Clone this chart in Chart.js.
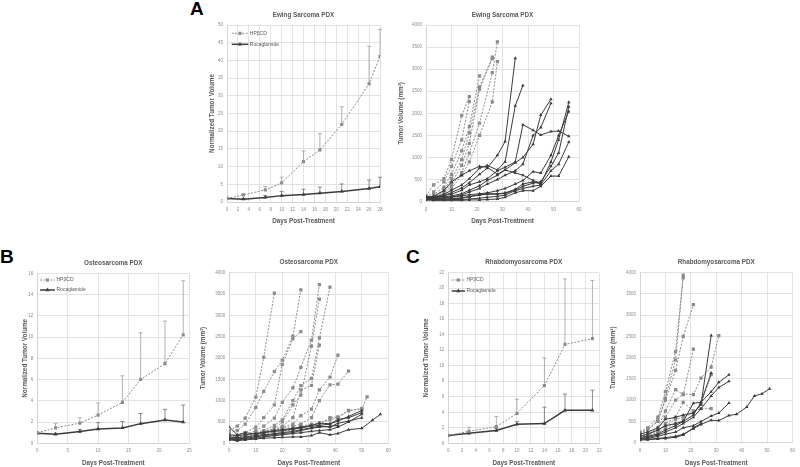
<!DOCTYPE html>
<html>
<head>
<meta charset="utf-8">
<script src="https://cdn.jsdelivr.net/npm/chart.js@4.4.1/dist/chart.umd.min.js"></script>
<style>
  body { margin: 0; background: #fff; width: 800px; height: 467px; position: relative; overflow: hidden; }
  canvas { position: absolute; }
  .tag { position: absolute; font: bold 19px "Liberation Sans", Arial, sans-serif; color: #000; line-height: 1; }
</style>
</head>
<body>
<div class="tag" style="left:190px;top:-1px">A</div>
<div class="tag" style="left:0px;top:247px">B</div>
<div class="tag" style="left:406px;top:247px">C</div>
<canvas id="ewingMean"></canvas>
<canvas id="ewingIndiv"></canvas>
<canvas id="osteoMean"></canvas>
<canvas id="osteoIndiv"></canvas>
<canvas id="rhabdoMean"></canvas>
<canvas id="rhabdoIndiv"></canvas>
<script>
// --- Ewing sarcoma: group means (normalized) with upward SD bars
const ewingDays = [0, 3, 7, 10, 14, 17, 21, 26, 28];
const ewingCtrlMean = [1, 2.0, 3.4, 5.4, 11.4, 14.7, 21.9, 33.4, 41.1];
const ewingCtrlSd = [0, 0.3, 1.0, 1.6, 3.0, 4.6, 5.0, 10.6, 7.7];
const ewingRocaMean = [1, 0.8, 1.3, 1.8, 2.1, 2.5, 3.0, 3.8, 4.3];
const ewingRocaSd = [0, 0.2, 0.5, 1.2, 1.5, 1.7, 2.1, 2.4, 2.7];

// --- Ewing sarcoma: individual tumours [day, mm3]
const ewingCtrlCurves = [
  [[0, 130], [3, 380], [7, 520], [10, 960], [14, 1950], [17, 2380]],
  [[0, 110], [3, 220], [7, 450], [10, 800], [14, 1400], [17, 2270]],
  [[0, 90], [3, 160], [7, 330], [10, 620], [14, 1150], [17, 1700], [21, 2850]],
  [[0, 100], [3, 130], [7, 270], [10, 520], [14, 950], [17, 1560], [21, 2600], [26, 3270]],
  [[0, 80], [3, 110], [7, 210], [10, 420], [14, 820], [17, 1320], [21, 2550], [26, 3240]],
  [[0, 90], [3, 100], [7, 180], [10, 360], [14, 660], [17, 1100], [21, 1780], [26, 2920], [28, 3620]],
  [[0, 70], [3, 90], [7, 150], [10, 300], [14, 600], [17, 900], [21, 1500], [26, 2260], [28, 3170]],
];
const ewingRocaCurves = [
  [[0, 100], [3, 90], [7, 130], [10, 210], [14, 310], [17, 430], [21, 620], [24, 760], [28, 1050], [31, 1360], [35, 3250]],
  [[0, 120], [3, 110], [7, 160], [10, 260], [14, 380], [17, 520], [21, 760], [24, 820], [28, 720], [31, 900], [35, 2170], [38, 2630]],
  [[0, 80], [3, 100], [7, 140], [10, 170], [14, 260], [17, 380], [21, 450], [24, 520], [28, 700], [31, 780], [35, 900], [38, 1740], [42, 1620], [45, 1510], [49, 1590], [52, 1600], [56, 1480]],
  [[0, 110], [3, 90], [7, 110], [10, 130], [14, 180], [17, 260], [21, 360], [24, 480], [28, 600], [31, 720], [35, 880], [38, 1000], [42, 1300], [45, 1960], [49, 2320]],
  [[0, 90], [3, 80], [7, 90], [10, 110], [14, 150], [17, 220], [21, 300], [24, 400], [28, 500], [31, 600], [35, 700], [38, 850], [42, 1500], [45, 1680], [49, 2230]],
  [[0, 70], [3, 60], [7, 60], [10, 70], [14, 90], [17, 120], [21, 160], [24, 180], [28, 180], [31, 200], [35, 280], [38, 400], [42, 450], [45, 400], [49, 900], [52, 1400], [56, 2250]],
  [[0, 60], [3, 50], [7, 50], [10, 60], [14, 80], [17, 110], [21, 150], [24, 170], [28, 170], [31, 190], [35, 260], [38, 350], [42, 420], [45, 450], [49, 800], [52, 1100], [56, 2150]],
  [[0, 80], [3, 70], [7, 80], [10, 100], [14, 130], [17, 160], [21, 180], [24, 200], [28, 250], [31, 300], [35, 400], [38, 480], [42, 680], [45, 650], [49, 1050], [52, 1500], [56, 2040]],
  [[0, 50], [3, 40], [7, 40], [10, 50], [14, 50], [17, 60], [21, 80], [24, 100], [28, 120], [31, 150], [35, 250], [38, 300], [42, 350], [45, 380], [49, 700], [52, 850], [56, 1350]],
  [[0, 40], [3, 30], [7, 30], [10, 30], [14, 30], [17, 40], [21, 40], [24, 50], [28, 60], [31, 100], [35, 200], [38, 250], [42, 250], [45, 350], [49, 580], [52, 580], [56, 1020]],
  [[0, 100], [3, 120], [7, 250], [10, 450], [14, 600], [17, 700], [21, 800], [24, 780], [28, 620], [31, 720], [35, 650], [38, 600], [42, 480], [45, 420]],
];

// --- Osteosarcoma
const osteoDays = [0, 3, 7, 10, 14, 17, 21, 24];
const osteoCtrlMean = [1.0, 1.45, 1.9, 2.65, 3.85, 6.0, 7.5, 10.2];
const osteoCtrlSd = [0, 0.4, 0.5, 1.15, 2.5, 4.4, 4.0, 5.1];
const osteoRocaMean = [0.95, 0.85, 1.1, 1.35, 1.45, 1.85, 2.2, 2.0];
const osteoRocaSd = [0, 0.1, 0.2, 0.6, 0.6, 0.95, 1.0, 1.6];

const osteoCtrlCurves = [
  [[0, 300], [3, 400], [6, 590], [10, 1080], [13, 2020], [17, 3520]],
  [[0, 250], [3, 300], [6, 450], [10, 840], [13, 1220], [17, 1680], [20, 1950], [24, 2510], [27, 3600]],
  [[0, 200], [3, 180], [6, 250], [10, 380], [13, 600], [17, 900], [20, 1850], [24, 2450], [27, 2620]],
  [[0, 150], [3, 120], [6, 180], [10, 300], [13, 400], [17, 590], [20, 960], [24, 1300], [27, 1780], [31, 2420], [34, 3720]],
  [[0, 180], [3, 150], [6, 200], [10, 250], [13, 300], [17, 420], [20, 550], [24, 1000], [27, 1350], [31, 1520], [34, 2470], [38, 3660]],
  [[0, 120], [3, 100], [6, 150], [10, 200], [13, 280], [17, 350], [20, 500], [24, 900], [27, 1130], [31, 2280], [34, 3380]],
  [[0, 100], [3, 80], [6, 120], [10, 180], [13, 250], [17, 300], [20, 400], [24, 600], [27, 1250], [31, 1360], [34, 2300]],
  [[0, 150], [3, 140], [6, 180], [10, 230], [13, 280], [17, 340], [20, 380], [24, 450], [27, 650], [31, 800], [34, 1250], [38, 1550], [41, 2070]],
  [[0, 140], [3, 120], [6, 160], [10, 200], [13, 250], [17, 300], [20, 350], [24, 400], [27, 450], [31, 600], [34, 1000], [38, 1370], [41, 1390], [45, 1690]],
  [[0, 130], [3, 110], [6, 140], [10, 170], [13, 220], [17, 260], [20, 300], [24, 350], [27, 400], [31, 450], [34, 480], [38, 550], [41, 600], [45, 770], [50, 800], [52, 1090]],
  [[0, 110], [3, 100], [6, 130], [10, 160], [13, 200], [17, 230], [20, 280], [24, 320], [27, 380], [31, 420], [34, 450], [38, 600], [41, 620], [45, 760], [50, 820]],
];
const osteoRocaCurves = [
  [[0, 380], [3, 200], [6, 250], [10, 220], [13, 260], [17, 300], [20, 320], [24, 350], [27, 380], [31, 420], [34, 470], [38, 460], [41, 520], [45, 630], [50, 770]],
  [[0, 200], [3, 180], [6, 200], [10, 230], [13, 250], [17, 280], [20, 300], [24, 330], [27, 360], [31, 400], [34, 420], [38, 450], [41, 560], [45, 600], [50, 720]],
  [[0, 150], [3, 130], [6, 150], [10, 180], [13, 200], [17, 220], [20, 250], [24, 280], [27, 320], [31, 360], [34, 400], [38, 380], [41, 470], [45, 520], [50, 600]],
  [[0, 100], [3, 80], [6, 100], [10, 120], [13, 150], [17, 180], [20, 200], [24, 230], [27, 250], [31, 280], [34, 300], [38, 320], [41, 380], [45, 500], [50, 680]],
  [[0, 80], [3, 60], [6, 80], [10, 100], [13, 120], [17, 130], [20, 140], [24, 150], [27, 150], [31, 180], [34, 250], [38, 200], [41, 230], [45, 320], [50, 350], [54, 540], [57, 680]],
  [[0, 120], [3, 100], [6, 120], [10, 150], [13, 180], [17, 200], [20, 230], [24, 250], [27, 300], [31, 350], [34, 380], [38, 400], [41, 420]],
];

// --- Rhabdomyosarcoma
const rhabdoDays = [0, 3, 7, 10, 14, 17, 21];
const rhabdoCtrlMean = [1.0, 1.55, 2.15, 3.85, 7.45, 12.75, 13.5];
const rhabdoCtrlSd = [0, 0.5, 1.3, 1.85, 3.55, 8.45, 7.5];
const rhabdoRocaMean = [1.0, 1.3, 1.65, 2.45, 2.55, 4.25, 4.25];
const rhabdoRocaSd = [0, 0.15, 0.25, 0.35, 2.1, 2.1, 2.6];

const rhabdoCtrlCurves = [
  [[0, 250], [3, 350], [7, 600], [10, 1200], [14, 2150], [17, 3940]],
  [[0, 220], [3, 320], [7, 520], [10, 1050], [14, 1950], [17, 3880]],
  [[0, 200], [3, 300], [7, 500], [10, 1000], [14, 1700], [17, 2500], [21, 3250]],
  [[0, 180], [3, 200], [7, 350], [10, 750], [14, 1250], [17, 1130], [21, 2200]],
  [[0, 120], [3, 180], [7, 300], [10, 600], [14, 1000], [17, 1150], [21, 1130], [24, 1520], [28, 1780], [31, 2520]],
  [[0, 100], [3, 150], [7, 250], [10, 450], [14, 600], [17, 950], [21, 750], [24, 800], [28, 800]],
  [[0, 150], [3, 200], [7, 280], [10, 400], [14, 550], [17, 600], [21, 700], [24, 900], [28, 1600]],
  [[0, 130], [3, 160], [7, 220], [10, 350], [14, 450], [17, 520]],
];
const rhabdoRocaCurves = [
  [[0, 200], [3, 250], [7, 350], [10, 550], [14, 600], [17, 650], [21, 700], [24, 900], [28, 2520]],
  [[0, 150], [3, 200], [7, 300], [10, 400], [14, 450], [17, 500], [21, 930], [24, 950], [28, 1640]],
  [[0, 120], [3, 150], [7, 200], [10, 300], [14, 400], [17, 500], [21, 650], [24, 950], [28, 1200], [31, 1420], [35, 1600]],
  [[0, 100], [3, 120], [7, 180], [10, 250], [14, 350], [17, 450], [21, 600], [24, 800], [28, 1100], [31, 1300], [35, 1445]],
  [[0, 80], [3, 100], [7, 150], [10, 200], [14, 250], [17, 350], [21, 400], [24, 500], [28, 630], [31, 700], [35, 935]],
  [[0, 90], [3, 80], [7, 100], [10, 120], [14, 150], [17, 200], [21, 330], [24, 430], [28, 530], [31, 520], [35, 640], [38, 670], [42, 840], [45, 1100], [48, 1150], [51, 1270]],
  [[0, 60], [3, 70], [7, 90], [10, 100], [14, 130], [17, 180], [21, 350], [24, 450]],
];

const FONT = '"Liberation Sans", Arial, sans-serif';
const TITLE_SIZE = 6.3;
const TICK_SIZE = 4.5;
const CTRL_COLOR = "#8c8c8c";
const ROCA_COLOR = "#3c3c3c";
Chart.defaults.font.family = FONT;

const toPts = (xs, ys) => xs.map((x, i) => ({ x, y: ys[i] }));
const toXY = curve => curve.map(([x, y]) => ({ x, y }));

// upward-only SD whiskers
const errorBars = {
  id: "errorBars",
  beforeDatasetsDraw(chart) {
    const { ctx, scales: { x, y } } = chart;
    chart.data.datasets.forEach(ds => {
      if (!ds.sd) { return; }
      ctx.save();
      ctx.strokeStyle = ds.errColor;
      ctx.lineWidth = 0.8;
      ds.data.forEach((p, k) => {
        const s = ds.sd[k];
        if (!s) { return; }
        const px = x.getPixelForValue(p.x);
        const y0 = y.getPixelForValue(p.y);
        const y1 = y.getPixelForValue(p.y + s);
        ctx.beginPath();
        ctx.moveTo(px, y0); ctx.lineTo(px, y1);
        ctx.moveTo(px - 2, y1); ctx.lineTo(px + 2, y1);
        ctx.stroke();
      });
      ctx.restore();
    });
  },
};

// Excel-style legend sitting inside the plot area (line + marker + label)
const insideLegend = {
  id: "insideLegend",
  afterDraw(chart, args, opts) {
    if (!opts || !opts.show) { return; }
    const { ctx, chartArea: a } = chart;
    chart.data.datasets.forEach((ds, i) => {
      const yy = a.top + opts.dy + i * opts.gap;
      const x0 = a.left + opts.dx;
      ctx.save();
      ctx.strokeStyle = ds.borderColor;
      ctx.lineWidth = ds.borderWidth;
      ctx.setLineDash(ds.borderDash || []);
      ctx.beginPath(); ctx.moveTo(x0, yy); ctx.lineTo(x0 + opts.len, yy); ctx.stroke();
      ctx.setLineDash([]);
      ctx.fillStyle = ds.pointBackgroundColor;
      Chart.helpers.drawPoint(ctx, { pointStyle: ds.pointStyle, radius: ds.pointRadius, borderWidth: 0, rotation: 0 }, x0 + opts.len / 2, yy);
      ctx.fillStyle = "#595959";
      ctx.font = "5px " + FONT;
      ctx.textBaseline = "middle";
      ctx.fillText(ds.label, x0 + opts.len + 1.5, yy);
      ctx.restore();
    });
  },
};

function ctrlStyle(r) {
  return { borderColor: CTRL_COLOR, borderWidth: 1, borderDash: [2, 1.5], pointStyle: "rect",
    pointRadius: r, pointBackgroundColor: CTRL_COLOR, pointBorderWidth: 0, showLine: true };
}
function rocaStyle(r, w) {
  return { borderColor: ROCA_COLOR, borderWidth: w, pointStyle: "triangle",
    pointRadius: r, pointBackgroundColor: ROCA_COLOR, pointBorderWidth: 0, showLine: true };
}

function meanSets(days, cm, cs, rm, rs) {
  return [
    { label: "HPβCD", data: toPts(days, cm), sd: cs, errColor: "#a0a0a0", ...ctrlStyle(2.2) },
    { label: "Rocaglamide", data: toPts(days, rm), sd: rs, errColor: "#707070", ...rocaStyle(2.4, 1.5) },
  ];
}
function curveSets(ctrl, roca) {
  return [
    ...roca.map(c => ({ label: "Rocaglamide", data: toXY(c), ...rocaStyle(2, 1) })),
    ...ctrl.map(c => ({ label: "HPβCD", data: toXY(c), ...ctrlStyle(2.3) })),
  ];
}

function makeChart(id, g, datasets, ax, legend) {
  const el = document.getElementById(id);
  el.width = g.w; el.height = g.h;
  el.style.left = g.x + "px"; el.style.top = g.y + "px";
  const lh = TITLE_SIZE * 1.2;
  const titleTop = g.titleY - g.y - lh / 2;
  const grid = { color: "#dcdcdc", lineWidth: 0.8, drawTicks: false };
  const border = { color: "#d0d0d0", width: 0.8 };
  // plain numbers, no thousands separator (4000, not 4,000)
  const tick = { font: { size: TICK_SIZE }, color: "#8c8c8c", autoSkip: false, maxRotation: 0,
    callback: v => String(v) };
  const axisTitle = { display: true, color: "#595959", font: { size: TITLE_SIZE, weight: "bold" } };
  return new Chart(el, {
    type: "scatter",
    data: { datasets },
    options: {
      responsive: false, animation: false, devicePixelRatio: 1,
      layout: { padding: { left: 0, top: 0, bottom: 0, right: g.x + g.w - g.ax1 } },
      plugins: {
        legend: { display: false },
        tooltip: { enabled: false },
        title: { display: true, text: g.title, fullSize: false, color: "#595959",
          font: { size: TITLE_SIZE, weight: "bold" },
          padding: { top: titleTop, bottom: g.ay0 - g.y - lh - titleTop } },
        insideLegend: legend || { show: false },
      },
      scales: {
        x: { type: "linear", min: 0, max: ax.xMax, grid, border,
          ticks: { ...tick, stepSize: ax.xStep, padding: 5 },
          title: { ...axisTitle, text: "Days Post-Treatment",
            padding: { top: 0, bottom: Math.max(0, g.y + g.h - g.xTitleY - lh / 2) } },
          afterFit(s) { s.height = g.y + g.h - g.ay1; } },
        y: { type: "linear", min: 0, max: ax.yMax, grid, border,
          ticks: { ...tick, stepSize: ax.yStep, padding: 4 },
          title: { ...axisTitle, text: ax.yTitle,
            padding: { top: g.yTitleX - g.x - lh / 2, bottom: 0 } },
          afterFit(s) { s.width = g.ax0 - g.x; } },
      },
    },
    plugins: [errorBars, insideLegend],
  });
}

const NORM = "Normalized Tumor Volume";
const VOL = "Tumor Volume (mm³)";

makeChart("ewingMean",
  { x: 195, y: 5, w: 195, h: 226, ax0: 227, ay0: 25, ax1: 380, ay1: 202, titleY: 15, yTitleX: 212.7, xTitleY: 221, title: "Ewing Sarcoma PDX" },
  meanSets(ewingDays, ewingCtrlMean, ewingCtrlSd, ewingRocaMean, ewingRocaSd),
  { xMax: 28, xStep: 2, yMax: 50, yStep: 5, yTitle: NORM },
  { show: true, dx: 4.7, dy: 8.3, gap: 11, len: 16.6 });

makeChart("ewingIndiv",
  { x: 388, y: 5, w: 200, h: 226, ax0: 426, ay0: 25, ax1: 579, ay1: 201.7, titleY: 15, yTitleX: 401, xTitleY: 221, title: "Ewing Sarcoma PDX" },
  curveSets(ewingCtrlCurves, ewingRocaCurves),
  { xMax: 60, xStep: 10, yMax: 4000, yStep: 500, yTitle: VOL });

makeChart("osteoMean",
  { x: 5, y: 250, w: 195, h: 217, ax0: 37.3, ay0: 273.3, ax1: 189.3, ay1: 443.3, titleY: 263.3, yTitleX: 25, xTitleY: 464, title: "Osteosarcoma PDX" },
  meanSets(osteoDays, osteoCtrlMean, osteoCtrlSd, osteoRocaMean, osteoRocaSd),
  { xMax: 25, xStep: 5, yMax: 16, yStep: 2, yTitle: NORM },
  { show: true, dx: 2.7, dy: 6.7, gap: 10, len: 15 });

makeChart("osteoIndiv",
  { x: 198, y: 250, w: 200, h: 217, ax0: 229.3, ay0: 272.7, ax1: 388.3, ay1: 443.3, titleY: 262.7, yTitleX: 203.3, xTitleY: 463.3, title: "Osteosarcoma PDX" },
  curveSets(osteoCtrlCurves, osteoRocaCurves),
  { xMax: 60, xStep: 10, yMax: 4000, yStep: 500, yTitle: VOL });

makeChart("rhabdoMean",
  { x: 410, y: 250, w: 198, h: 217, ax0: 448.3, ay0: 272.7, ax1: 599.3, ay1: 443.3, titleY: 262.3, yTitleX: 426.7, xTitleY: 463.3, title: "Rhabdomyosarcoma PDX" },
  meanSets(rhabdoDays, rhabdoCtrlMean, rhabdoCtrlSd, rhabdoRocaMean, rhabdoRocaSd),
  { xMax: 22, xStep: 2, yMax: 22, yStep: 2, yTitle: NORM },
  { show: true, dx: 3.4, dy: 7.3, gap: 11, len: 13.3 });

makeChart("rhabdoIndiv",
  { x: 605, y: 250, w: 195, h: 217, ax0: 640, ay0: 272.7, ax1: 796.7, ay1: 442.7, titleY: 262.3, yTitleX: 613.3, xTitleY: 463.3, title: "Rhabdomyosarcoma PDX" },
  curveSets(rhabdoCtrlCurves, rhabdoRocaCurves),
  { xMax: 60, xStep: 10, yMax: 4000, yStep: 500, yTitle: VOL });
</script>
</body>
</html>
